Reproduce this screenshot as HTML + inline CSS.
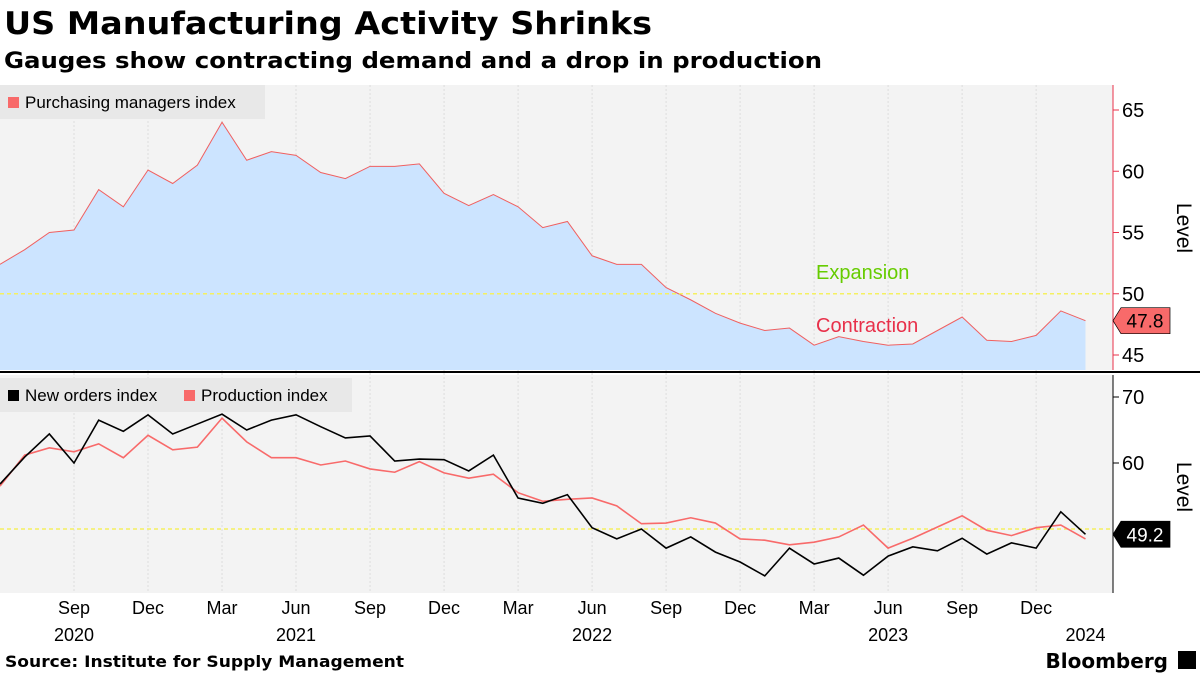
<!DOCTYPE html>
<html><head><meta charset="utf-8"><style>
body{margin:0;background:#fff;width:1200px;height:675px;overflow:hidden;font-family:"Liberation Sans",sans-serif}
svg text{font-family:"Liberation Sans",sans-serif}
svg text.dv{font-family:"DejaVu Sans",sans-serif;font-weight:bold}
</style></head><body>
<svg id="c" width="1200" height="675" xmlns="http://www.w3.org/2000/svg">
<text class="dv" x="4" y="34" font-size="31" textLength="648" lengthAdjust="spacingAndGlyphs" fill="#000">US Manufacturing Activity Shrinks</text>
<text class="dv" x="4" y="68" font-size="22" textLength="818" lengthAdjust="spacingAndGlyphs" fill="#000">Gauges show contracting demand and a drop in production</text>
<text class="dv" x="5" y="667" font-size="16" textLength="399" lengthAdjust="spacingAndGlyphs" fill="#000">Source: Institute for Supply Management</text>
<text class="dv" x="1168" y="668" font-size="20" text-anchor="end" fill="#000">Bloomberg</text>
<rect x="1178" y="651" width="18" height="18" fill="#000"/>
<g id="grid"></g>
<g id="top"></g>
<g id="bot"></g>
<g id="axes"></g>
</svg>
<script>
const months=["Jun20","Jul20","Aug20","Sep20","Oct20","Nov20","Dec20","Jan21","Feb21","Mar21","Apr21","May21","Jun21","Jul21","Aug21","Sep21","Oct21","Nov21","Dec21","Jan22","Feb22","Mar22","Apr22","May22","Jun22","Jul22","Aug22","Sep22","Oct22","Nov22","Dec22","Jan23","Feb23","Mar23","Apr23","May23","Jun23","Jul23","Aug23","Sep23","Oct23","Nov23","Dec23","Jan24","Feb24"];
const pmi=[52.4,53.6,55,55.2,58.5,57.1,60.1,59,60.5,64,60.9,61.6,61.3,59.9,59.4,60.4,60.4,60.6,58.2,57.2,58.1,57.1,55.4,55.9,53.1,52.4,52.4,50.5,49.5,48.4,47.6,47,47.2,45.8,46.5,46.1,45.8,45.9,47,48.1,46.2,46.1,46.6,48.6,47.8];
const newOrders=[56.8,60.9,64.4,60,66.5,64.8,67.3,64.4,65.9,67.4,65,66.5,67.3,65.5,63.8,64.1,60.3,60.6,60.5,58.8,61.2,54.7,53.9,55.2,50.2,48.5,50,47.1,48.8,46.5,45,42.9,47.1,44.7,45.6,43,45.9,47.3,46.7,48.6,46.2,47.9,47.1,52.6,49.2];
const production=[56.5,61.2,62.3,61.7,62.9,60.8,64.2,62,62.4,66.8,63.2,60.8,60.8,59.7,60.3,59.1,58.6,60.2,58.5,57.7,58.3,55.5,54.2,54.5,54.7,53.5,50.8,50.9,51.7,50.9,48.5,48.3,47.6,48,48.8,50.6,47.1,48.6,50.3,52,49.8,49,50.2,50.6,48.5];
const topTicks=[45,50,55,60,65];
const botTicks=[60,70];
const xTicks=[{i:3,m:"Sep",y:"2020"},{i:6,m:"Dec"},{i:9,m:"Mar"},{i:12,m:"Jun",y:"2021"},{i:15,m:"Sep"},{i:18,m:"Dec"},{i:21,m:"Mar"},{i:24,m:"Jun",y:"2022"},{i:27,m:"Sep"},{i:30,m:"Dec"},{i:33,m:"Mar"},{i:36,m:"Jun",y:"2023"},{i:39,m:"Sep"},{i:42,m:"Dec"},{i:44,y:"2024"}];
const NS="http://www.w3.org/2000/svg";
const X=i=>i*24.67;
const Yt=v=>355-(v-45)*12.25;
const Yb=v=>529-(v-50)*6.6;
function mk(t,a,p){const e=document.createElementNS(NS,t);for(const k in a)e.setAttribute(k,a[k]);p.appendChild(e);return e;}
const g=document.getElementById('grid'),tp=document.getElementById('top'),bt=document.getElementById('bot'),ax=document.getElementById('axes');
let r=mk('rect',{x:0,y:85,width:1113,height:285,fill:'#f3f3f3'},g);

r=mk('rect',{x:0,y:375,width:1113,height:218,fill:'#f3f3f3'},g);

xTicks.forEach(t=>{if(t.m){let l=mk('line',{x1:X(t.i),x2:X(t.i),y1:85,y2:593,stroke:'#ddd','stroke-dasharray':'2,2'},g);
}});
let d='M'+X(0)+','+Yt(pmi[0]);pmi.forEach((v,i)=>d+=' L'+X(i)+','+Yt(v));
let a=mk('path',{d:d+' L'+X(pmi.length-1)+',370 L0,370 Z',fill:'#cce4ff'},tp);

let pl=mk('path',{d:d,fill:'none',stroke:'#f06060','stroke-width':1},tp);

let th=mk('line',{x1:0,x2:1113,y1:Yt(50),y2:Yt(50),stroke:'#f5f060','stroke-dasharray':'4,3','stroke-width':1.5},tp);

let t=mk('text',{x:816,y:279,'font-size':20,fill:'#66cc00'},tp);t.textContent='Expansion';

t=mk('text',{x:816,y:332,'font-size':20,fill:'#e8304a'},tp);t.textContent='Contraction';

th=mk('line',{x1:0,x2:1113,y1:Yb(50),y2:Yb(50),stroke:'#f5f060','stroke-dasharray':'4,3','stroke-width':1.5},bt);

[[production,'#f86a6a','production-line'],[newOrders,'#000','new-orders-line']].forEach(([s,c,n])=>{
let dd='';s.forEach((v,i)=>dd+=(i?' L':'M')+X(i)+','+Yb(v));
let p=mk('path',{d:dd,fill:'none',stroke:c,'stroke-width':1.6},bt);
});
let dv=mk('line',{x1:0,x2:1200,y1:372,y2:372,stroke:'#000','stroke-width':2},ax);

let ya=mk('line',{x1:1113,x2:1113,y1:85,y2:370,stroke:'#e8304a'},ax);

ya=mk('line',{x1:1113,x2:1113,y1:375,y2:593,stroke:'#000'},ax);

topTicks.forEach(v=>{let l=mk('line',{x1:1113,x2:1119,y1:Yt(v),y2:Yt(v),stroke:'#e8304a'},ax);

let tt=mk('text',{x:1122,y:Yt(v)+7,'font-size':20,fill:'#000'},ax);tt.textContent=v;
});
botTicks.forEach(v=>{let l=mk('line',{x1:1113,x2:1119,y1:Yb(v),y2:Yb(v),stroke:'#000'},ax);

let tt=mk('text',{x:1122,y:Yb(v)+7,'font-size':20,fill:'#000'},ax);tt.textContent=v;
});
[[228,'top-y-axis-title'],[487,'bottom-y-axis-title']].forEach(([y,n])=>{let tt=mk('text',{x:1177,y:y,'font-size':21,'text-anchor':'middle',transform:'rotate(90 1177 '+y+')'},ax);tt.textContent='Level';
});
xTicks.forEach(k=>{if(k.m){let tt=mk('text',{x:X(k.i),y:614,'font-size':18,'text-anchor':'middle'},ax);tt.textContent=k.m;
}
if(k.y){let tt=mk('text',{x:X(k.i),y:641,'font-size':18,'text-anchor':'middle'},ax);tt.textContent=k.y;
}});
function tag(v,y,fill,fc,n){let gg=mk('g',{},ax);
mk('path',{d:`M1113,${y} L1121,${y-13} L1170,${y-13} L1170,${y+13} L1121,${y+13} Z`,fill:fill,stroke:'#000','stroke-width':0.7},gg);
let tt=mk('text',{x:1145,y:y+7,'font-size':19,'text-anchor':'middle',fill:fc},gg);tt.textContent=v;}
tag(pmi[pmi.length-1],Yt(pmi[pmi.length-1]),'#f86a6a','#000','pmi-end-label');
tag(newOrders[newOrders.length-1],Yb(newOrders[newOrders.length-1]),'#000','#fff','new-orders-end-label');
function leg(x,y,w,items,n){let gg=mk('g',{},ax);
mk('rect',{x:x,y:y,width:w,height:34,fill:'#e8e8e8'},gg);let cx=x+8;
items.forEach(([c,l,ww])=>{mk('rect',{x:cx,y:y+12,width:11,height:11,fill:c},gg);let tt=mk('text',{x:cx+17,y:y+23,'font-size':17},gg);tt.textContent=l;cx+=ww;});}
leg(0,85,265,[['#f86a6a','Purchasing managers index',250]],'pmi-legend');
leg(0,378,352,[['#000','New orders index',176],['#f86a6a','Production index',170]],'bottom-legend');
</script>
</body></html>
